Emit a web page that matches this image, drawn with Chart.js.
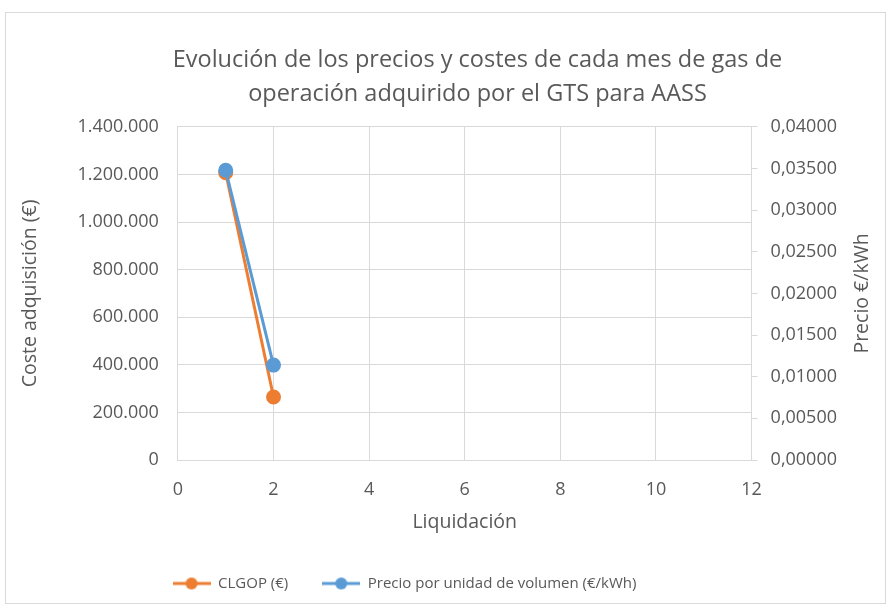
<!DOCTYPE html>
<html>
<head>
<meta charset="utf-8">
<script src="https://cdn.jsdelivr.net/npm/chart.js@4.4.1/dist/chart.umd.min.js"></script>
<style>
html,body{margin:0;padding:0;background:#fff;}
#frame{position:absolute;left:5px;top:12px;width:881px;height:592px;border:1px solid #d9d9d9;box-sizing:border-box;}
#wrap{position:absolute;left:0;top:0;width:892px;height:610px;}
</style>
</head>
<body>
<div id="frame"></div>
<div id="wrap"><canvas id="c" width="892" height="610"></canvas></div>
<script>
const titleLines = ["Evolución de los precios y costes de cada mes de gas de", "operación adquirido por el GTS para AASS"];
const liquidacion = [1, 2];
const clgop = [1208000, 265000];
const precio = [0.0348, 0.0114];
const xTicks = [0, 2, 4, 6, 8, 10, 12];
const leftTicks = [0, 200000, 400000, 600000, 800000, 1000000, 1200000, 1400000];
const rightTicks = [0, 0.005, 0.01, 0.015, 0.02, 0.025, 0.03, 0.035, 0.04];
const seriesNames = ["CLGOP (€)", "Precio por unidad de volumen (€/kWh)"];
const xTitle = "Liquidación";
const yTitle = "Coste adquisición (€)";
const y1Title = "Precio €/kWh";
const colors = ["#ED7D31", "#5B9BD5"];

const FONT = "'Open Sans', sans-serif";
const TXT = "#595959";
const TICK_SIZE = 18;
const AXIS_TITLE_SIZE = 19.5;

function fmtThousands(v){
  return Math.round(v).toString().replace(/\B(?=(\d{3})+(?!\d))/g, ".");
}
function legendIcon(color){
  const c = document.createElement('canvas');
  c.width = 38; c.height = 14;
  const g = c.getContext('2d');
  g.strokeStyle = color; g.lineWidth = 3;
  g.beginPath(); g.moveTo(0,7); g.lineTo(38,7); g.stroke();
  g.fillStyle = color;
  g.beginPath(); g.arc(19,7,6,0,Math.PI*2); g.fill();
  return c;
}
const icons = colors.map(legendIcon);

const rightTitlePlugin = {
  id: 'rightTitle',
  afterDraw(chart){
    const ctx = chart.ctx, a = chart.chartArea;
    ctx.save();
    ctx.fillStyle = TXT;
    ctx.font = AXIS_TITLE_SIZE + "px " + FONT;
    ctx.textAlign = 'center'; ctx.textBaseline = 'middle';
    ctx.translate(a.right + 111, (a.top + a.bottom) / 2);
    ctx.rotate(-Math.PI / 2);
    ctx.fillText(y1Title, 0, 0);
    ctx.restore();
  }
};
const boxShift = {
  id: 'boxShift',
  afterLayout(chart){
    chart.legend.left -= 30; chart.legend.right -= 30;
    chart.titleBlock.left += 43; chart.titleBlock.right += 43;
  }
};

new Chart(document.getElementById('c'), {
  type: 'scatter',
  data: {
    datasets: [
      {label: seriesNames[0], data: liquidacion.map((x,i)=>({x, y: clgop[i]})), yAxisID: 'y',
       borderColor: colors[0], backgroundColor: colors[0], showLine: true, borderWidth: 3,
       pointRadius: 6, pointHoverRadius: 6, order: 2},
      {label: seriesNames[1], data: liquidacion.map((x,i)=>({x, y: precio[i]})), yAxisID: 'y1',
       borderColor: colors[1], backgroundColor: colors[1], showLine: true, borderWidth: 3,
       pointRadius: 6, pointHoverRadius: 6, order: 1}
    ]
  },
  plugins: [rightTitlePlugin, boxShift],
  options: {
    responsive: false,
    animation: false,
    layout: {padding: {left: 19, right: 42, top: 44, bottom: 18}},
    plugins: {
      title: {display: true, text: titleLines, color: TXT, font: {family: FONT, size: 23.5, weight: 'normal', lineHeight: 1.425}, padding: {top: 0, bottom: 16}},
      legend: {position: 'bottom', maxHeight: 50, labels: {
        color: TXT, font: {family: FONT, size: 15}, usePointStyle: true, pointStyleWidth: 38, boxHeight: 14, padding: 34,
        generateLabels: (chart) => chart.data.datasets.map((d,i)=>({text: d.label, pointStyle: icons[i], fillStyle: colors[i], strokeStyle: colors[i], lineWidth: 0, datasetIndex: i, fontColor: TXT}))
      }},
      tooltip: {enabled: false}
    },
    scales: {
      x: {type: 'linear', min: 0, max: 12,
        afterBuildTicks: (s)=>{ s.ticks = xTicks.map(v=>({value:v})); },
        ticks: {color: TXT, font: {family: FONT, size: TICK_SIZE}, padding: 8},
        grid: {color: '#d9d9d9', lineWidth: 1, drawTicks: true, tickLength: 11, tickColor: 'rgba(0,0,0,0)'},
        border: {color: '#d9d9d9'},
        title: {display: true, text: xTitle, color: TXT, font: {family: FONT, size: AXIS_TITLE_SIZE}, padding: {top: 2, bottom: 8}}
      },
      y: {type: 'linear', position: 'left', min: 0, max: 1400000,
        afterBuildTicks: (s)=>{ s.ticks = leftTicks.map(v=>({value:v})); },
        ticks: {color: TXT, font: {family: FONT, size: TICK_SIZE}, padding: 19, callback: (v)=>fmtThousands(v)},
        grid: {color: '#d9d9d9', lineWidth: 1, drawTicks: false},
        border: {color: '#d9d9d9'},
        title: {display: true, text: yTitle, color: TXT, font: {family: FONT, size: AXIS_TITLE_SIZE}, padding: {top: 0, bottom: 16}}
      },
      y1: {type: 'linear', position: 'right', min: 0, max: 0.04,
        afterBuildTicks: (s)=>{ s.ticks = rightTicks.map(v=>({value:v})); },
        ticks: {color: TXT, font: {family: FONT, size: TICK_SIZE}, padding: 13, callback: (v)=>v.toFixed(5).replace('.', ',')},
        grid: {display: true, drawOnChartArea: false, drawTicks: true, tickLength: 6, color: '#d9d9d9'},
        border: {color: '#d9d9d9'}
      }
    }
  }
});
</script>
</body>
</html>
